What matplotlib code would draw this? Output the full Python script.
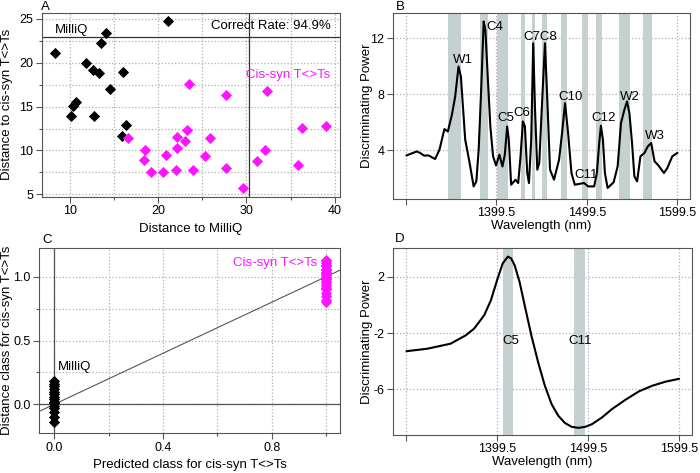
"""Four-panel figure: distance scatter, class plot and discriminating power spectra."""

import matplotlib

matplotlib.use("Agg")
import matplotlib.pyplot as plt
from matplotlib.ticker import MultipleLocator, FixedLocator

plt.rcParams["font.family"] = ["Liberation Sans", "DejaVu Sans"]
plt.rcParams["font.size"] = 9
plt.rcParams["axes.unicode_minus"] = False

MAGENTA = "#ff14ff"
BAND = "#c5d0d0"
GRID = "#b0b0b0"
FRAME = "#555555"

# --- panel A: distances
milliq_dist_m = [21.06, 14.04, 13.51, 8.3, 11.81, 12.57, 13.32, 16.04, 14.53,
                 10.68, 10.38, 10.11, 12.75, 16.34, 15.92]
milliq_dist_c = [24.73, 23.37, 22.3, 21.16, 19.94, 19.18, 18.8, 18.92, 17.02,
                 15.53, 15.08, 13.97, 13.97, 12.95, 11.65]
cis_dist_m = [23.5, 27.66, 32.34, 16.53, 18.49, 18.34, 19.17, 20.83, 20.57,
              22.15, 22.11, 21.96, 23.21, 23.06, 23.96, 25.85, 25.25, 27.66,
              29.66, 31.25, 32.11, 35.81, 36.34, 39.06]
cis_dist_c = [17.59, 16.33, 16.83, 11.43, 10.02, 8.88, 7.55, 9.49, 7.55,
              11.5, 10.32, 7.74, 12.34, 11.08, 7.78, 11.46, 9.37, 8.04,
              5.76, 8.84, 10.06, 8.38, 12.57, 12.79]
threshold_m = 30.3
threshold_c = 22.9

# --- panel C: predicted vs distance class
milliq_pred = [0.0] * 15
milliq_class = [-0.14, -0.1, -0.06, -0.03, -0.01, 0.01, 0.02, 0.04, 0.06,
                0.08, 0.1, 0.12, 0.14, 0.16, 0.18]
cis_pred = [1.0] * 24
cis_class = [0.8, 0.82, 0.85, 0.87, 0.9, 0.91, 0.93, 0.94, 0.96, 0.97, 0.98,
             0.99, 1.0, 1.01, 1.02, 1.03, 1.04, 1.05, 1.06, 1.08, 1.09, 1.11,
             1.12, 1.13]

# --- panel B: discriminating power spectrum
wl_b = [1300.2, 1311.4, 1315.0, 1319.5, 1324.3, 1331.7, 1336.5, 1342.0, 1345.8,
        1350.2, 1353.9, 1357.6, 1360.2, 1362.5, 1365.0, 1369.9, 1374.3, 1377.3,
        1379.9, 1382.8, 1385.4, 1387.3, 1389.9, 1392.8, 1395.8, 1399.1, 1402.8,
        1406.2, 1408.8, 1411.4, 1413.2, 1415.8, 1420.6, 1423.6, 1426.2, 1428.8,
        1431.0, 1433.6, 1435.5, 1438.0, 1440.2, 1442.1, 1444.7, 1446.9, 1449.1,
        1451.4, 1453.2, 1455.8, 1458.8, 1463.2, 1468.8, 1472.5, 1475.4, 1478.8,
        1482.5, 1486.2, 1492.8, 1496.5, 1501.0, 1507.6, 1510.6, 1513.2, 1515.1,
        1517.3, 1519.5, 1522.5, 1529.1, 1533.6, 1537.3, 1541.0, 1544.0, 1546.6,
        1549.5, 1552.1, 1555.1, 1558.8, 1563.2, 1566.9, 1570.7, 1574.4, 1578.1,
        1584.8, 1588.5, 1594.0, 1599.5]
power_b = [3.62, 3.9, 3.8, 3.6, 3.62, 3.36, 4.02, 5.5, 5.33,
           6.5, 7.83, 9.98, 9.26, 7.1, 4.74, 3.07, 1.4, 1.76,
           4.02, 8.55, 13.2, 12.6, 9.26, 5.69, 3.55, 2.9, 3.67,
           2.83, 3.67, 5.69, 4.74, 1.52, 1.88, 1.64, 3.55, 6.05,
           5.7, 2.36, 1.64, 4.74, 11.64, 7.12, 2.6, 3.07, 6.17,
           9.26, 11.64, 7.6, 2.6, 1.88, 3.31, 5.45, 7.36, 5.21,
           2.36, 1.52, 1.6, 1.64, 1.4, 1.4, 2.36, 4.5, 5.74,
           4.74, 2.36, 1.29, 1.69, 2.83, 5.93, 6.88, 7.48, 6.64,
           4.5, 2.12, 1.76, 3.55, 3.79, 4.26, 4.5, 3.19, 2.95,
           2.36, 2.71, 3.55, 3.79]
bands_b = [(1346.5, 1360.6), (1381.0, 1390.2), (1400.6, 1412.5), (1426.2, 1431.4),
           (1438.4, 1441.7), (1449.5, 1455.8), (1471.4, 1478.0), (1494.0, 1500.3),
           (1510.2, 1516.5), (1535.4, 1546.9), (1561.7, 1571.7)]
peak_names_b = ["W1", "C4", "C5", "C6", "C7C8", "C10", "C11", "C12", "W2", "W3"]
peak_x_b = [1362.5, 1397.3, 1409.5, 1428.0, 1448.4, 1481.7, 1498.4, 1517.6, 1546.6, 1574.3]
peak_y_b = [10.45, 12.83, 6.29, 6.64, 12.12, 7.83, 2.24, 6.29, 7.83, 4.98]

# --- panel D: discriminating power (two bands)
wl_d = [1300.2, 1322.5, 1348.4, 1365.0, 1374.3, 1385.4, 1392.8, 1400.2, 1405.8,
        1411.4, 1415.0, 1418.8, 1424.3, 1429.9, 1437.3, 1444.7, 1452.1, 1459.5,
        1466.9, 1474.3, 1481.7, 1489.1, 1496.5, 1503.9, 1515.0, 1526.1, 1540.9,
        1555.8, 1570.6, 1585.4, 1599.5]
power_d = [-3.29, -3.12, -2.76, -2.17, -1.69, -0.74, 0.33, 1.88, 2.95,
           3.43, 3.31, 2.83, 1.64, -0.02, -2.17, -4.07, -5.74, -7.05,
           -7.88, -8.4, -8.67, -8.74, -8.67, -8.48, -8.0, -7.4, -6.74,
           -6.14, -5.74, -5.45, -5.26]
bands_d = [(1406.6, 1417.6), (1484.7, 1495.8)]
peak_names_d = ["C5", "C11"]
peak_x_d = [1414.3, 1491.0]
peak_y_d = [-2.6, -2.6]

wl_ticks = [1299.5, 1399.5, 1499.5, 1599.5]
wl_labels = ["", "1399.5", "1499.5", "1599.5"]
d_ticks = [-6, -2, 2]
d_labels = ["-6", "-2", "2"]


def style_axes(ax, minor_grid=True):
    for s in ax.spines.values():
        s.set_color(FRAME)
        s.set_linewidth(0.8)
    ax.tick_params(which="major", direction="out", length=4.5, width=0.8,
                   color=FRAME, pad=1.5, labelsize=9)
    ax.tick_params(which="minor", direction="out", length=2.5, width=0.8,
                   color=FRAME)
    ax.grid(True, which="major", linestyle=":", color=GRID, linewidth=0.9)
    if minor_grid:
        ax.grid(True, which="minor", linestyle=":", color=GRID, linewidth=0.9)
    ax.set_axisbelow(True)


def diamonds(ax, x, y, color):
    ax.plot(x, y, "D", color=color, markersize=5, markeredgewidth=0.6,
            markeredgecolor=color, linestyle="none", zorder=3)


def labels(ax, xlabel, ylabel, xpos, ypos):
    ax.set_xlabel(xlabel, fontsize=9.5)
    ax.set_ylabel(ylabel, fontsize=9.5)
    ax.xaxis.set_label_coords(0.5, xpos)
    ax.yaxis.set_label_coords(ypos, 0.5)
    ax.xaxis.label.set_va("center")
    ax.yaxis.label.set_va("center")


fig = plt.figure(figsize=(7.0, 4.73), dpi=100)

# A
ax_a = fig.add_axes([0.0596, 0.5835, 0.4261, 0.3896])
style_axes(ax_a)
ax_a.axhline(threshold_c, color="#333333", linewidth=0.9, zorder=2)
ax_a.axvline(threshold_m, color="#333333", linewidth=0.9, zorder=2)
diamonds(ax_a, milliq_dist_m, milliq_dist_c, "black")
diamonds(ax_a, cis_dist_m, cis_dist_c, MAGENTA)
ax_a.set_xlim(6.8, 40.6)
ax_a.set_ylim(4.7, 25.7)
ax_a.xaxis.set_major_locator(MultipleLocator(10))
ax_a.xaxis.set_minor_locator(MultipleLocator(5))
ax_a.yaxis.set_major_locator(MultipleLocator(5))
ax_a.yaxis.set_minor_locator(MultipleLocator(2.5))
labels(ax_a, "Distance to MilliQ", "Distance to cis-syn T<>Ts", -0.172, -0.117)
ax_a.text(8.3, 23.1, "MilliQ", ha="left", va="bottom", fontsize=9.5)
ax_a.text(39.5, 24.2, "Correct Rate: 94.9%", ha="right", va="center", fontsize=9.5)
ax_a.text(39.5, 18.6, "Cis-syn T<>Ts", ha="right", va="center", color=MAGENTA,
          fontsize=9.5)
fig.text(0.0643, 0.985, "A", ha="center", va="center", fontsize=9.5)

# B
ax_b = fig.add_axes([0.561, 0.5793, 0.4247, 0.3939])
style_axes(ax_b, minor_grid=False)
for lo, hi in bands_b:
    ax_b.axvspan(lo, hi, color=BAND, linewidth=0, zorder=1)
ax_b.plot(wl_b, power_b, color="black", linewidth=1.5, zorder=3)
for name, x, y in zip(peak_names_b, peak_x_b, peak_y_b):
    ax_b.text(x, y, name, ha="center", va="center", zorder=4, fontsize=9.5)
ax_b.set_xlim(1284.8, 1613.6)
ax_b.set_ylim(0.5, 13.83)
ax_b.xaxis.set_major_locator(FixedLocator(wl_ticks))
ax_b.set_xticklabels(wl_labels)
ax_b.yaxis.set_major_locator(FixedLocator([4, 8, 12]))
labels(ax_b, "Wavelength (nm)", "Discriminating Power", -0.145, -0.087)
fig.text(0.5714, 0.985, "B", ha="center", va="center", fontsize=9.5)

# C
ax_c = fig.add_axes([0.0561, 0.0839, 0.4296, 0.3924])
style_axes(ax_c)
ax_c.axhline(0, color="#555555", linewidth=0.9, zorder=2)
ax_c.axvline(0, color="#555555", linewidth=0.9, zorder=2)
ax_c.plot([-0.1, 1.1], [-0.1, 1.1], color="#555555", linewidth=0.8, zorder=2)
diamonds(ax_c, milliq_pred, milliq_class, "black")
diamonds(ax_c, cis_pred, cis_class, MAGENTA)
ax_c.set_xlim(-0.055, 1.051)
ax_c.set_ylim(-0.227, 1.227)
ax_c.xaxis.set_major_locator(MultipleLocator(0.4))
ax_c.xaxis.set_minor_locator(MultipleLocator(0.2))
ax_c.yaxis.set_major_locator(MultipleLocator(0.5))
ax_c.yaxis.set_minor_locator(MultipleLocator(0.25))
labels(ax_c, "Predicted class for cis-syn T<>Ts", "Distance class for cis-syn T<>Ts",
       -0.17, -0.108)
ax_c.text(0.015, 0.295, "MilliQ", ha="left", va="center", fontsize=9.5)
ax_c.text(0.966, 1.11, "Cis-syn T<>Ts", ha="right", va="center", color=MAGENTA,
          fontsize=9.5)
fig.text(0.0667, 0.492, "C", ha="center", va="center", fontsize=9.5)

# D
ax_d = fig.add_axes([0.561, 0.0803, 0.4271, 0.3947])
style_axes(ax_d, minor_grid=False)
for lo, hi in bands_d:
    ax_d.axvspan(lo, hi, color=BAND, linewidth=0, zorder=1)
ax_d.plot(wl_d, power_d, color="black", linewidth=1.5, zorder=3)
for name, x, y in zip(peak_names_d, peak_x_d, peak_y_d):
    ax_d.text(x, y, name, ha="center", va="center", zorder=4, fontsize=9.5)
ax_d.set_xlim(1284.8, 1613.6)
ax_d.set_ylim(-9.25, 4.02)
ax_d.xaxis.set_major_locator(FixedLocator(wl_ticks))
ax_d.set_xticklabels(wl_labels)
ax_d.yaxis.set_major_locator(FixedLocator(d_ticks))
ax_d.set_yticklabels(d_labels)
labels(ax_d, "Wavelength (nm)", "Discriminating Power", -0.142, -0.087)
fig.text(0.5714, 0.494, "D", ha="center", va="center", fontsize=9.5)

fig.savefig("out.png", dpi=100)
plt.close(fig)
